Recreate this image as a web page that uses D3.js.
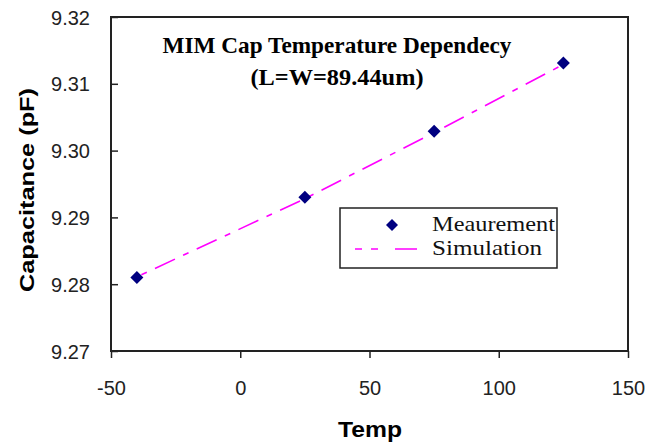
<!DOCTYPE html>
<html>
<head>
<meta charset="utf-8">
<script src="https://cdn.jsdelivr.net/npm/d3@7"></script>
<style>
  html, body { margin: 0; padding: 0; background: #fff; }
  svg { display: block; }
</style>
</head>
<body>
<svg id="chart" width="661" height="443"></svg>
<script>
// ---- data ----
const measTemps = [-40, 25, 75, 125];
const measValues = [9.2810, 9.2930, 9.3029, 9.3131];
const simTemps = [-40, 25, 75, 125];
const simValues = [9.2811, 9.2928, 9.3027, 9.3129];
const xTicks = [-50, 0, 50, 100, 150];
const yTicks = [9.27, 9.28, 9.29, 9.30, 9.31, 9.32];
const titleLines = ["MIM Cap Temperature Dependecy", "(L=W=89.44um)"];
const legendLabels = ["Meaurement", "Simulation"];
const xLabel = "Temp";
const yLabel = "Capacitance (pF)";

// ---- layout ----
const svg = d3.select("#chart");
const L = 111, R = 628, T = 17, B = 351;
const x = d3.scaleLinear().domain([-50, 150]).range([L, R]);
const y = d3.scaleLinear().domain([9.27, 9.32]).range([B, T]);

// frame
svg.append("rect").attr("x", L).attr("y", T).attr("width", R - L).attr("height", B - T)
  .attr("fill", "none").attr("stroke", "#222").attr("stroke-width", 2);

// x axis (ticks outward)
const xAxis = d3.axisBottom(x).tickValues(xTicks).tickSize(7).tickSizeOuter(0).tickFormat(d => String(d));
const gx = svg.append("g").attr("transform", `translate(0,${B})`).call(xAxis);
gx.select(".domain").remove();
gx.selectAll(".tick line").attr("stroke", "#222").attr("stroke-width", 1.5);
gx.selectAll(".tick text").attr("font-family", "Liberation Sans, Arial, sans-serif")
  .attr("font-size", 20).attr("fill", "#222").attr("y", 0).attr("dy", "44px");

// y axis (ticks inward)
const yAxis = d3.axisLeft(y).tickValues(yTicks).tickSize(-7).tickSizeOuter(0).tickFormat(d3.format(".2f"));
const gy = svg.append("g").attr("transform", `translate(${L},0)`).call(yAxis);
gy.select(".domain").remove();
gy.selectAll(".tick line").attr("stroke", "#222").attr("stroke-width", 1.5);
gy.selectAll(".tick text").attr("font-family", "Liberation Sans, Arial, sans-serif")
  .attr("font-size", 20).attr("fill", "#222").attr("x", -21).attr("dy", "0.35em");

// simulation line
const simData = simTemps.map((t, i) => [t, simValues[i]]);
svg.append("path").datum(simData)
  .attr("d", d3.line().x(d => x(d[0])).y(d => y(d[1])))
  .attr("fill", "none").attr("stroke", "#ff00ff").attr("stroke-width", 1.6)
  .attr("stroke-dasharray", "22,9,6,9").attr("stroke-dashoffset", -20);

// measurement markers
const diamond = (cx, cy, r) => `M${cx},${cy - r}L${cx + r},${cy}L${cx},${cy + r}L${cx - r},${cy}Z`;
const measData = measTemps.map((t, i) => [t, measValues[i]]);
svg.selectAll("path.meas").data(measData).enter().append("path").attr("class", "meas")
  .attr("d", d => diamond(x(d[0]), y(d[1]), 6.5)).attr("fill", "#000080");

// title
svg.append("text").attr("x", 337).attr("y", 53).attr("text-anchor", "middle")
  .attr("font-family", "Liberation Serif, Times New Roman, serif").attr("font-weight", "bold")
  .attr("font-size", 23).attr("textLength", 349).attr("lengthAdjust", "spacingAndGlyphs")
  .text(titleLines[0]);
svg.append("text").attr("x", 337).attr("y", 85).attr("text-anchor", "middle")
  .attr("font-family", "Liberation Serif, Times New Roman, serif").attr("font-weight", "bold")
  .attr("font-size", 23).attr("textLength", 173).attr("lengthAdjust", "spacingAndGlyphs")
  .text(titleLines[1]);

// legend
svg.append("rect").attr("x", 340).attr("y", 208).attr("width", 217).attr("height", 60)
  .attr("fill", "#fff").attr("stroke", "#222").attr("stroke-width", 1.5);
svg.append("path").attr("d", diamond(392, 225, 6)).attr("fill", "#000080");
svg.append("line").attr("x1", 355).attr("x2", 422).attr("y1", 249).attr("y2", 249)
  .attr("stroke", "#ff00ff").attr("stroke-width", 1.6).attr("stroke-dasharray", "7,9,7,17,22");
const legendLens = [123, 110];
legendLabels.forEach((lab, i) => {
  svg.append("text").attr("x", 432).attr("y", 231 + i * 24)
    .attr("font-family", "Liberation Serif, Times New Roman, serif")
    .attr("font-size", 22).attr("textLength", legendLens[i]).attr("lengthAdjust", "spacingAndGlyphs")
    .attr("fill", "#111").text(lab);
});

// axis titles
svg.append("text").attr("x", 370).attr("y", 437).attr("text-anchor", "middle")
  .attr("font-family", "Liberation Sans, Arial, sans-serif").attr("font-weight", "bold")
  .attr("font-size", 22).attr("textLength", 64).attr("lengthAdjust", "spacingAndGlyphs").text(xLabel);
svg.append("text").attr("transform", "translate(34,190) rotate(-90)").attr("text-anchor", "middle")
  .attr("font-family", "Liberation Sans, Arial, sans-serif").attr("font-weight", "bold")
  .attr("font-size", 21).attr("textLength", 204).attr("lengthAdjust", "spacingAndGlyphs").text(yLabel);
</script>
</body>
</html>
